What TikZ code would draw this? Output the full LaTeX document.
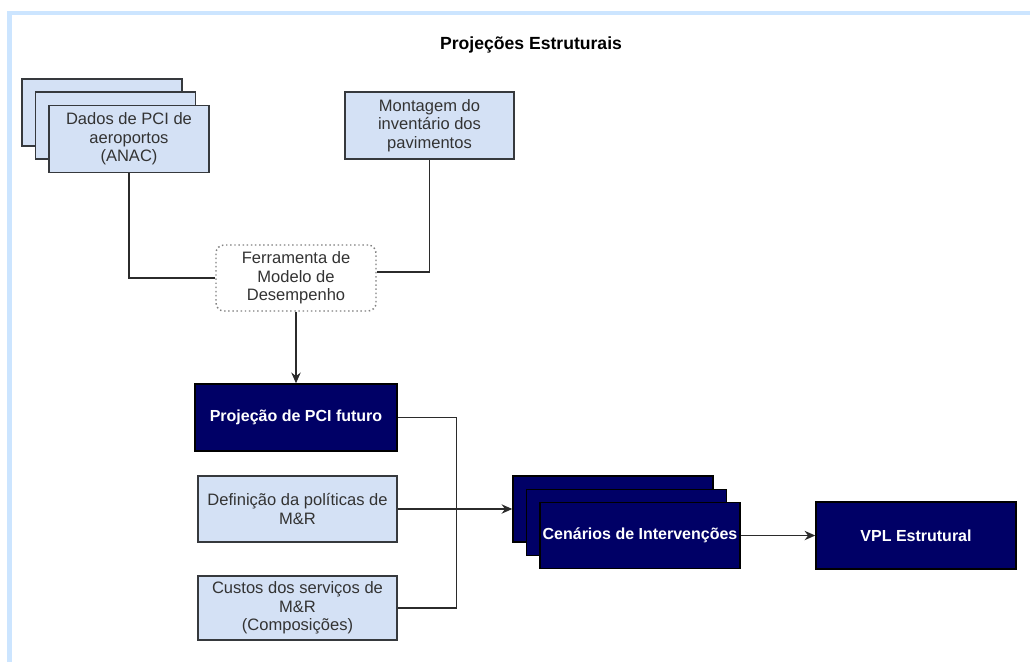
\documentclass[tikz,border=0pt]{standalone}
\usepackage{fontspec}
\setmainfont{Liberation Sans}
\usetikzlibrary{arrows.meta}

\definecolor{navy}{HTML}{000066}
\definecolor{paleblue}{HTML}{D4E1F5}
\definecolor{framecol}{HTML}{CCE5FF}
\definecolor{edgecol}{HTML}{36393D}
\definecolor{txt}{HTML}{333333}
\definecolor{wirecol}{HTML}{2B2B2B}

\tikzset{
  boxbase/.style={rectangle, line width=1.1pt, align=center, inner sep=0pt,
    font=\fontsize{12.4}{14}\selectfont},
  lightbox/.style={boxbase, draw=edgecol, fill=paleblue, text=txt},
  darkbox/.style={boxbase, draw=black, fill=navy, text=white,
    font=\fontsize{12}{14}\selectfont\bfseries},
  toolbox/.style={boxbase, draw=gray, dotted, line width=1.1pt,
    rounded corners=6pt, fill=white, text=txt},
  wire/.style={draw=wirecol, line width=1.1pt},
  arrowwire/.style={wire, -{Stealth[length=8pt,width=7pt]}},
}

\begin{document}
\begin{tikzpicture}[x=0.75pt, y=-0.75pt]
  \useasboundingbox (0,0) rectangle (1030,662);

  % outer frame (open to the right and bottom)
  \draw[framecol, line width=3.2pt] (9.5,662) -- (9.5,13) -- (1030,13);

  % title
  \node[font=\fontsize{13.2}{15}\selectfont\bfseries] (title) at (531,45) {Projeções Estruturais};

  % stacked source: airport PCI data
  \node[lightbox, minimum width=120pt, minimum height=50pt] (dadosC) at (102,112.5) {};
  \node[lightbox, minimum width=120pt, minimum height=50pt] (dadosB) at (115.5,125.5) {};
  \node[lightbox, minimum width=120pt, minimum height=50pt] (dados) at (129,139)
    {Dados de PCI de\\aeroportos\\(ANAC)};

  % pavement inventory
  \node[lightbox, minimum width=126.75pt, minimum height=50.25pt] (mont) at (429.5,125.5)
    {Montagem do\\inventário dos\\pavimentos};

  % performance model tool
  \node[toolbox, minimum width=120pt, minimum height=49.5pt] (ferr) at (296,278)
    {Ferramenta de\\Modelo de\\Desempenho};

  % PCI projection and inputs
  \node[darkbox, minimum width=151.5pt, minimum height=50.25pt] (proj) at (296,417.5)
    {Projeção de PCI futuro};
  \node[lightbox, minimum width=149.25pt, minimum height=49.5pt] (defi) at (297.5,509)
    {Definição da políticas de\\M\&R};
  \node[lightbox, minimum width=149.25pt, minimum height=48pt] (cust) at (297.5,608)
    {Custos dos serviços de\\M\&R\\(Composições)};

  % stacked intervention scenarios
  \node[darkbox, minimum width=150pt, minimum height=49.5pt] (cenC) at (613,509) {};
  \node[darkbox, minimum width=150pt, minimum height=49.5pt] (cenB) at (626.5,522.5) {};
  \node[darkbox, minimum width=150pt, minimum height=49.5pt] (cen) at (640,535.5)
    {Cenários de Intervenções};

  % structural NPV
  \node[darkbox, minimum width=150pt, minimum height=50.25pt] (vpl) at (916,535.5)
    {VPL Estrutural};

  % connectors
  \draw[wire] (dados.south) |- (ferr.west);
  \draw[wire] (mont.south) |- ([yshift=4.5pt]ferr.east);
  \draw[arrowwire] (ferr.south) -- (proj.north);
  \draw[wire] (proj.east) -- ++(59,0) |- (cust.east);
  \draw[arrowwire] (defi.east) -- (cenC.west);
  \draw[arrowwire] (cen.east) -- (vpl.west);
\end{tikzpicture}
\end{document}
